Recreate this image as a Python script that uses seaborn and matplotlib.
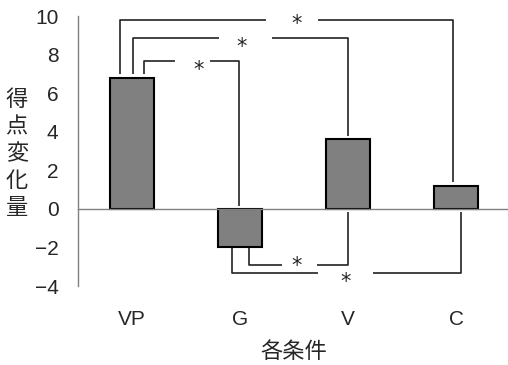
import matplotlib
matplotlib.use("Agg")
import matplotlib.pyplot as plt
import seaborn as sns
import pandas as pd
import numpy as np

# ---- data ----
categories = ["VP", "G", "V", "C"]
values = [6.8, -2.0, 3.6, 1.2]
yticks = [-4, -2, 0, 2, 4, 6, 8, 10]
ylabel_text = "得\n点\n変\n化\n量"
xlabel_text = "各条件"

# significance brackets
br_pairs = [(0, 3), (0, 2), (0, 1), (1, 2), (1, 3)]
br_heights = [9.8, 8.85, 7.65, -2.9, -3.35]
br_off_i = [-0.11, 0.01, 0.11, 0.08, -0.075]
br_off_j = [-0.03, 0.0, -0.01, 0.0, 0.05]
br_gap_c = [1.48, 1.05, 0.56, 1.55, 1.98]
br_gap_hw = [0.24, 0.245, 0.16, 0.16, 0.255]
br_star_x = [1.52, 1.01, 0.62, 1.52, 1.98]
br_star_y = [9.59, 8.39, 7.2, -2.95, -3.78]

sns.set_style("white")
plt.rcParams["font.family"] = ["Liberation Sans", "Noto Sans CJK JP", "DejaVu Sans"]
cjk = ["Noto Sans CJK JP", "DejaVu Sans"]

fig = plt.figure(figsize=(5.08, 3.65), dpi=100)
ax = fig.add_axes([78 / 508, 1 - 286 / 365, 432 / 508, 270 / 365])

df = pd.DataFrame({"cond": categories, "val": values})
sns.barplot(data=df, x="cond", y="val", color="#808080", saturation=1,
            edgecolor="black", linewidth=1.5, width=0.41, ax=ax)

ax.set_xlim(-0.5, 3.5)
ax.set_ylim(-4, 10)
ax.set_yticks(yticks)
ax.set_yticklabels([str(t).replace("-", "\u2212") for t in yticks], fontsize=15)

for s in ["top", "right"]:
    ax.spines[s].set_visible(False)
ax.spines["left"].set_color("#808080")
ax.spines["bottom"].set_color("#808080")
ax.spines["bottom"].set_position(("data", 0))
ax.spines["left"].set_linewidth(1.0)
ax.spines["bottom"].set_linewidth(1.0)

ax.tick_params(axis="y", direction="in", length=5, color="#808080", width=1, pad=14)
ax.set_xticks(range(len(categories)))
ax.set_xticklabels(categories, fontsize=15)
ax.tick_params(axis="x", which="major", length=0, pad=73)
ax.set_xticks([0.5, 1.5, 2.5], minor=True)
ax.tick_params(axis="x", which="minor", direction="in", length=5, color="#808080", width=1)

ax.set_xlabel(xlabel_text, fontsize=16, family=cjk)
ax.xaxis.set_label_coords(0.5, -0.244)
ax.xaxis.label.set_va("center")
ax.set_ylabel(ylabel_text, fontsize=16, rotation=0, linespacing=1.22, va="center",
              ha="center", family=cjk)
ax.yaxis.set_label_coords(-0.142, 0.49)

# brackets
for k, (i, j) in enumerate(br_pairs):
    h = br_heights[k]
    xi = i + br_off_i[k]
    xj = j + br_off_j[k]
    vi, vj = values[i], values[j]
    if h > 0:
        yi = max(vi, 0) + 0.17
        yj = max(vj, 0) + 0.17
    else:
        yi = min(vi, 0) - (0.02 if vi < 0 else 0.15)
        yj = min(vj, 0) - (0.02 if vj < 0 else 0.15)
    g0 = br_gap_c[k] - br_gap_hw[k]
    g1 = br_gap_c[k] + br_gap_hw[k]
    kw = dict(color="#222222", lw=1.2, solid_capstyle="butt")
    ax.plot([xi, xi, g0], [yi, h, h], **kw)
    ax.plot([g1, xj, xj], [h, h, yj], **kw)
    ax.text(br_star_x[k], br_star_y[k], "*", ha="center", va="center", fontsize=15,
            family=["DejaVu Sans"])

fig.savefig("out.png", dpi=100)
